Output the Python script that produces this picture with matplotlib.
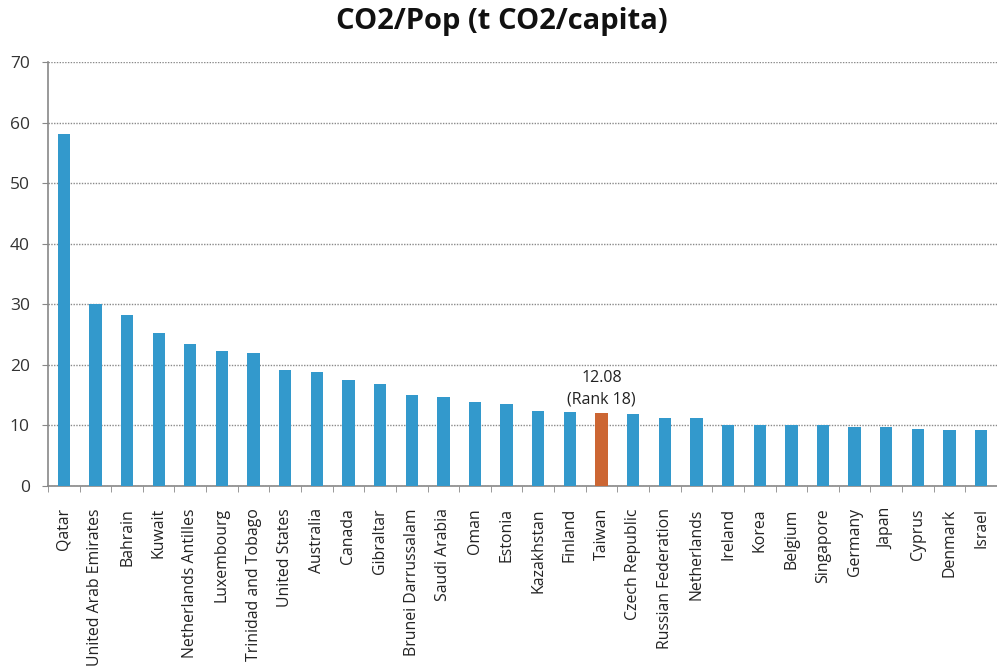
import matplotlib
matplotlib.use("Agg")
import matplotlib.pyplot as plt
import numpy as np

countries = [
    "Qatar", "United Arab Emirates", "Bahrain", "Kuwait", "Netherlands Antilles",
    "Luxembourg", "Trinidad and Tobago", "United States", "Australia", "Canada",
    "Gibraltar", "Brunei Darrussalam", "Saudi Arabia", "Oman", "Estonia",
    "Kazakhstan", "Finland", "Taiwan", "Czech Republic", "Russian Federation",
    "Netherlands", "Ireland", "Korea", "Belgium", "Singapore",
    "Germany", "Japan", "Cyprus", "Denmark", "Israel",
]
co2_per_capita = [
    58.1, 30.0, 28.3, 25.2, 23.5,
    22.3, 22.0, 19.2, 18.8, 17.5,
    16.9, 15.0, 14.7, 13.8, 13.6,
    12.4, 12.2, 12.08, 11.9, 11.3,
    11.2, 10.1, 10.1, 10.0, 10.0,
    9.8, 9.8, 9.35, 9.3, 9.3,
]
highlight = "Taiwan"
highlight_rank = 18
yticks = [0, 10, 20, 30, 40, 50, 60, 70]

plt.rcParams["font.family"] = ["Open Sans", "DejaVu Sans"]

fig = plt.figure(figsize=(9.97, 6.70), dpi=100)
ax = fig.add_axes([0.0481, 0.2746, 0.9519, 0.6329])

x = np.arange(len(countries))
colors = ["#cc6633" if c == highlight else "#3399cc" for c in countries]
ax.bar(x, co2_per_capita, width=0.39, color=colors, zorder=3)

hi = countries.index(highlight)
ax.annotate(f"{co2_per_capita[hi]:.2f}\n(Rank {highlight_rank})",
            xy=(hi, co2_per_capita[hi]), xytext=(0, 4), textcoords="offset points",
            ha="center", va="bottom", fontsize=11.5, color="#222222", linespacing=1.45)

ax.set_xlim(-0.5, len(countries) - 0.5)
ax.set_ylim(0, 70)
ax.set_yticks(yticks)
ax.set_yticklabels([str(v) for v in yticks], fontsize=12.5, color="#333333")
ax.tick_params(axis="y", length=4, color="#888888", pad=9)

ax.set_xticks(x)
ax.set_xticklabels(countries, rotation=90, fontsize=11.4, color="#222222")
ax.set_xticks(np.arange(len(countries) + 1) - 0.5, minor=True)
ax.tick_params(axis="x", which="major", length=0, pad=16)
ax.tick_params(axis="x", which="minor", length=4, color="#888888")

ax.grid(axis="y", color="#8a8a8a", linestyle=(0, (1, 1)), linewidth=1, zorder=0)
for side in ("top", "right"):
    ax.spines[side].set_visible(False)
for side in ("left", "bottom"):
    ax.spines[side].set_color("#888888")
    ax.spines[side].set_linewidth(1.2)

fig.text(0.503, 0.99, "CO2/Pop (t CO2/capita)", ha="center", va="top",
         fontsize=21, fontweight="bold", color="#111111")

fig.savefig("out.png", dpi=100)
